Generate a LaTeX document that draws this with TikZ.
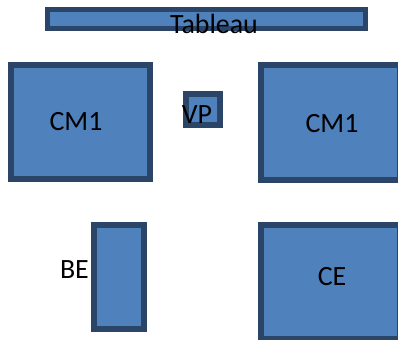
\documentclass[tikz,border=0pt]{standalone}
\usepackage{fontspec}
\setmainfont{Carlito}
\usepackage{tikz}
\definecolor{boxfill}{HTML}{4F81BD}
\definecolor{boxline}{HTML}{2A4568}

\begin{document}
\begin{tikzpicture}[x=1bp,y=-1bp,
  box/.style={draw=boxline,fill=boxfill,rectangle,inner sep=0pt,outer sep=0pt},
  lbl/.style={font=\fontsize{28}{30}\selectfont,inner sep=0pt}]
\useasboundingbox (0,0) rectangle (398,340);
\node[box,line width=5bp,minimum width=318bp,minimum height=19bp] (tableau) at (206.5,19) {};
\node[box,line width=6bp,minimum width=139bp,minimum height=114bp] (cmA) at (80.5,122) {};
\node[box,line width=6bp,minimum width=34bp,minimum height=31bp] (vp) at (203,109.5) {};
\node[box,line width=6bp,minimum width=139bp,minimum height=115bp] (cmB) at (330.5,122.5) {};
\node[box,line width=6bp,minimum width=50bp,minimum height=104bp] (be) at (119,277) {};
\node[box,line width=6bp,minimum width=139bp,minimum height=114bp] (ce) at (330.5,282) {};
\node[lbl,anchor=base] (tTableau) at (214,33) {Tableau};
\node[lbl,anchor=base] (tcmA) at (76,130) {CM1};
\node[lbl,anchor=base] (tvp) at (197,123) {VP};
\node[lbl,anchor=base] (tcmB) at (332,132) {CM1};
\node[lbl,anchor=base east] (tbe) at (89,278) {BE};
\node[lbl,anchor=base] (tce) at (332,285) {CE};
\end{tikzpicture}
\end{document}
